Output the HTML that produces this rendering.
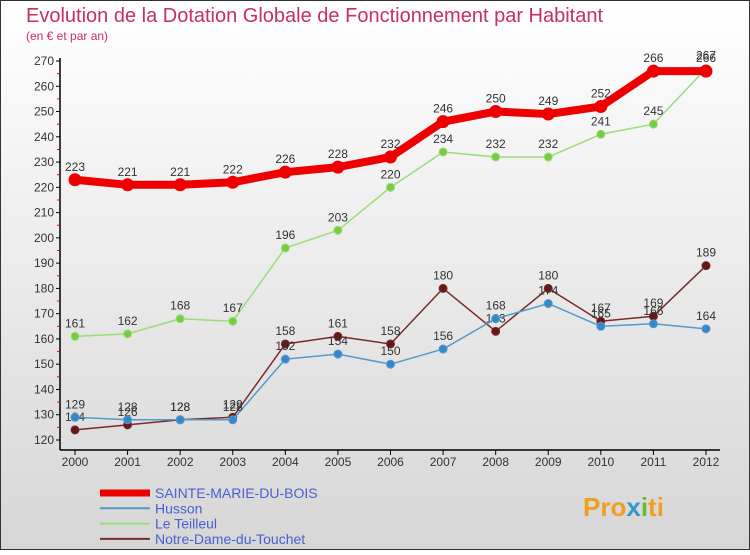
<!DOCTYPE html>
<html><head><meta charset="utf-8"><style>
body{margin:0;}
#c{width:750px;height:550px;position:relative;font-family:"Liberation Sans",sans-serif;}
</style></head><body>
<div id="c">
<svg id="s" width="750" height="550" xmlns="http://www.w3.org/2000/svg">
<defs><linearGradient id="bg" x1="0" y1="0" x2="0" y2="1"><stop offset="0" stop-color="#ffffff"/><stop offset="1" stop-color="#d6d6d6"/></linearGradient></defs>
<rect x="0.5" y="0.5" width="749" height="549" fill="url(#bg)" stroke="#333"/>
<text x="26" y="22" font-size="20" fill="#c8305a">Evolution de la Dotation Globale de Fonctionnement par Habitant</text>
<text x="26" y="40" font-size="12" fill="#c8305a">(en € et par an)</text>
<g id="axes"></g><g id="series"></g><g id="legend"></g>
<text x="583" y="516" font-size="26" font-weight="bold" fill="#f0a020">Pro<tspan fill="#3399cc">x</tspan><tspan fill="#66bb33">i</tspan>ti</text>
</svg>
</div>
<script>
const years=[2000,2001,2002,2003,2004,2005,2006,2007,2008,2009,2010,2011,2012];
const yTicks=[120,130,140,150,160,170,180,190,200,210,220,230,240,250,260,270];
const sainteMarie=[223,221,221,222,226,228,232,246,250,249,252,266,266];
const husson=[129,128,128,128,152,154,150,156,168,174,165,166,164];
const leTeilleul=[161,162,168,167,196,203,220,234,232,232,241,245,267];
const notreDame=[124,126,128,129,158,161,158,180,163,180,167,169,189];
const NS="http://www.w3.org/2000/svg";
const X=i=>75+i*(706-75)/12;
const Y=v=>440-(v-120)*(440-61)/150;
function mk(tag,attrs,parent){const e=document.createElementNS(NS,tag);for(const k in attrs)e.setAttribute(k,attrs[k]);parent.appendChild(e);return e;}
const ax=document.getElementById('axes');
let l=mk('line',{x1:60,y1:58,x2:60,y2:450,stroke:'#000','stroke-width':1.5},ax);


l=mk('line',{x1:60,y1:450,x2:720,y2:450,stroke:'#000','stroke-width':1.5},ax);


yTicks.forEach((v,i)=>{
 mk('line',{x1:56,y1:Y(v),x2:60,y2:Y(v),stroke:'#000'},ax);
 if(i<yTicks.length-1)mk('line',{x1:57,y1:Y(v+5),x2:60,y2:Y(v+5),stroke:'#e00'},ax);
 const t=mk('text',{x:54,y:Y(v)+4,'font-size':12,'text-anchor':'end',fill:'#333'},ax);
 t.textContent=v;
 
 
});
years.forEach((y,i)=>{
 mk('line',{x1:X(i),y1:450,x2:X(i),y2:455,stroke:'#000'},ax);
 const t=mk('text',{x:X(i),y:466,'font-size':12,'text-anchor':'middle',fill:'#333'},ax);
 t.textContent=y;
 
 
});
const sg=document.getElementById('series');
function draw(data,color,dot,width,r,name){
 const g=mk('g',{},sg);
 
 
 mk('polyline',{points:data.map((v,i)=>X(i)+','+Y(v)).join(' '),fill:'none',stroke:color,'stroke-width':width,'stroke-linejoin':'round'},g);
 data.forEach((v,i)=>{
  const c=mk('circle',{cx:X(i),cy:Y(v),r:r,fill:dot,stroke:color,'stroke-width':1},g);
  
  
  const t=mk('text',{x:X(i),y:Y(v)-9,'font-size':12,'text-anchor':'middle',fill:'#333'},g);
  t.textContent=v;
  
  
 });
}
draw(notreDame,'#7a2a2a','#661818',1.5,4,'notre-dame-series');
draw(husson,'#5599cc','#3388cc',1.5,4,'husson-series');
draw(leTeilleul,'#99dd77','#77cc44',1.5,4,'le-teilleul-series');
draw(sainteMarie,'#ee0000','#ee0000',8,6,'sainte-marie-series');
const lg=document.getElementById('legend');
[['SAINTE-MARIE-DU-BOIS','#ee0000',7],['Husson','#5599cc',2],['Le Teilleul','#99dd77',2],['Notre-Dame-du-Touchet','#7a2a2a',2]].forEach((d,i)=>{
 const y=493+i*15.3;
 const g=mk('g',{},lg);
 
 
 mk('line',{x1:100,y1:y,x2:150,y2:y,stroke:d[1],'stroke-width':d[2]},g);
 const t=mk('text',{x:155,y:y+5,'font-size':14,fill:'#4a60d0'},g);
 t.textContent=d[0];
});
</script>
</body></html>
